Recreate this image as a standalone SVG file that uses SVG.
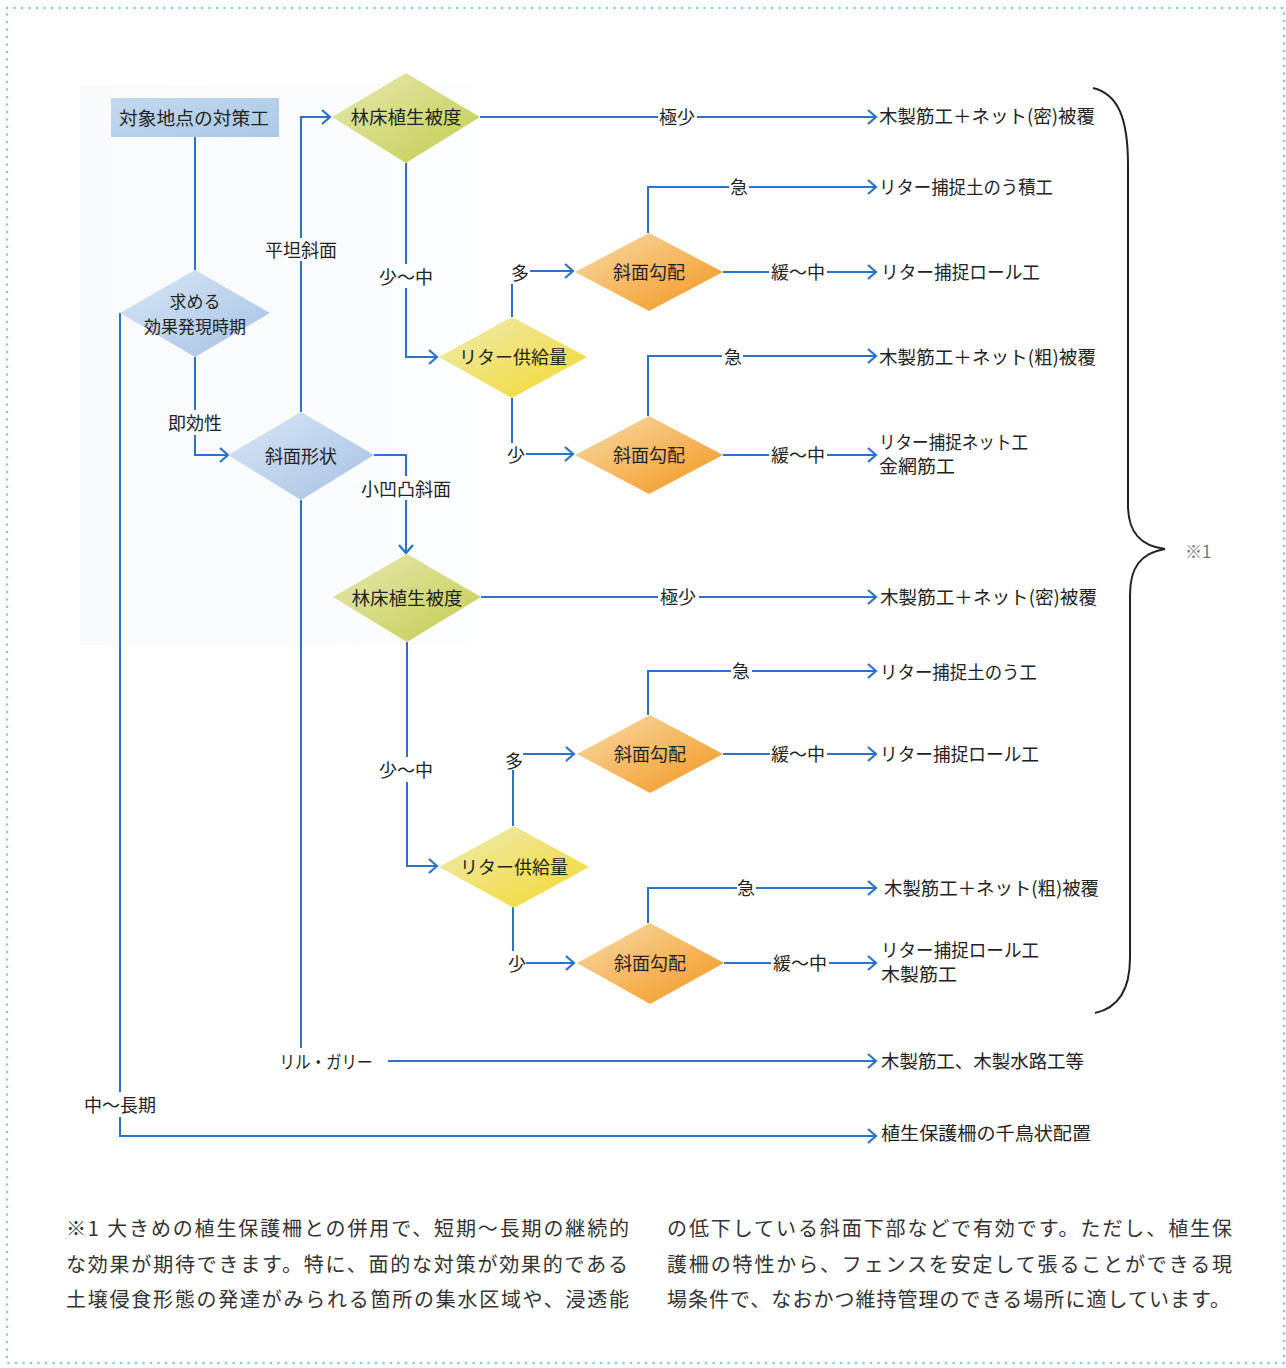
<svg xmlns="http://www.w3.org/2000/svg" width="1286" height="1368" viewBox="0 0 1286 1368">
<defs>
<linearGradient id="gBlue" x1="0" y1="0" x2="1" y2="1"><stop offset="0" stop-color="#d8e6f5"/><stop offset="1" stop-color="#a6c2e4"/></linearGradient>
<linearGradient id="gBox" x1="0" y1="0" x2="1" y2="1"><stop offset="0" stop-color="#c2d8ef"/><stop offset="1" stop-color="#abc9e9"/></linearGradient>
<linearGradient id="gGreen" x1="0" y1="0" x2="1" y2="1"><stop offset="0" stop-color="#e6e9b2"/><stop offset="1" stop-color="#c3cc4e"/></linearGradient>
<linearGradient id="gYellow" x1="0" y1="0" x2="1" y2="1"><stop offset="0" stop-color="#ecebb6"/><stop offset="1" stop-color="#f6d92a"/></linearGradient>
<linearGradient id="gOrange" x1="0" y1="0" x2="1" y2="1"><stop offset="0" stop-color="#f8dcaa"/><stop offset="1" stop-color="#f3951a"/></linearGradient>
<linearGradient id="gTint" x1="0" y1="0" x2="1" y2="0"><stop offset="0" stop-color="#eef2f6"/><stop offset="1" stop-color="#f8fafc"/></linearGradient>
<marker id="arr" markerUnits="userSpaceOnUse" markerWidth="12" markerHeight="18" refX="9" refY="8" orient="auto"><path d="M1,1 L9,8 L1,15" fill="none" stroke="#2b72c8" stroke-width="2.2"/></marker>
</defs>
<style>
text{font-family:"Noto Sans CJK JP","Noto Sans",sans-serif;fill:#222;font-size:18px;dominant-baseline:central}
.n{text-anchor:middle}
.l{text-anchor:middle}
.r{font-size:18.5px}
.c{fill:none;stroke:#2b72c8;stroke-width:2}
.note{font-size:20px;fill:#333;dominant-baseline:auto}
</style>
<rect width="1286" height="1368" fill="#ffffff"/>
<rect x="80" y="85" width="390" height="560" fill="url(#gTint)" opacity="0.4"/>
<rect x="7" y="8" width="1277" height="1355" fill="none" stroke="#7ccfd0" stroke-width="2.6" stroke-linecap="round" stroke-dasharray="0 7.5"/>

<g id="connectors">
<path class="c" d="M195,137 V270"/>
<path class="c" d="M195,357 V410 M195,435 V455 H228" marker-end="url(#arr)"/>
<path class="c" d="M301,412 V261 M301,238 V117 H330" marker-end="url(#arr)"/>
<path class="c" d="M374,455 H406 V476 M406,500 V553" marker-end="url(#arr)"/>
<path class="c" d="M301,500 V1048"/>
<path class="c" d="M388,1061 H876" marker-end="url(#arr)"/>
<path class="c" d="M120,313 V1092 M120,1117 V1136 H876" marker-end="url(#arr)"/>
<path class="c" d="M480,117 H658 M697,117 H876" marker-end="url(#arr)"/>
<path class="c" d="M406,163 V264 M406,288 V357 H437" marker-end="url(#arr)"/>
<path class="c" d="M512,317 V284 M530,271 H573" marker-end="url(#arr)"/>
<path class="c" d="M512,398 V443 M526,454 H573" marker-end="url(#arr)"/>
<path class="c" d="M648,233 V187 H729 M749,187 H876" marker-end="url(#arr)"/>
<path class="c" d="M723,272 H769 M827,272 H876" marker-end="url(#arr)"/>
<path class="c" d="M648,416 V356 H722 M743,356 H876" marker-end="url(#arr)"/>
<path class="c" d="M723,455 H769 M827,455 H876" marker-end="url(#arr)"/>
<path class="c" d="M481,597 H658 M699,597 H876" marker-end="url(#arr)"/>
<path class="c" d="M407,642 V757 M407,782 V866 H437" marker-end="url(#arr)"/>
<path class="c" d="M513,826 V770 M523,754 H574" marker-end="url(#arr)"/>
<path class="c" d="M513,907 V951 M526,963 H574" marker-end="url(#arr)"/>
<path class="c" d="M648,715 V671 H731 M752,671 H876" marker-end="url(#arr)"/>
<path class="c" d="M723,754 H770 M827,754 H876" marker-end="url(#arr)"/>
<path class="c" d="M648,923 V888 H737 M756,888 H876" marker-end="url(#arr)"/>
<path class="c" d="M724,963 H771 M829,963 H876" marker-end="url(#arr)"/>
<path d="M1093,88 C1118,94 1128,118 1128,165 L1128,505 C1128,532 1140,546 1165,549 C1141,553 1130,567 1130,595 L1130,958 C1130,990 1118,1008 1095,1013" fill="none" stroke="#222" stroke-width="2"/>
</g>

<g id="edge-labels">
<text class="l" x="195" y="422">即効性</text>
<text class="l" x="301" y="249">平坦斜面</text>
<text class="l" x="406" y="488">小凹凸斜面</text>
<text class="l" x="326" y="1061" textLength="93" lengthAdjust="spacingAndGlyphs">リル・ガリー</text>
<text class="l" x="120" y="1104">中～長期</text>
<text class="l" x="677" y="116">極少</text>
<text class="l" x="406" y="276">少～中</text>
<text class="l" x="520" y="272">多</text>
<text class="l" x="516" y="454">少</text>
<text class="l" x="739" y="186">急</text>
<text class="l" x="798" y="271">緩～中</text>
<text class="l" x="733" y="356">急</text>
<text class="l" x="798" y="454">緩～中</text>
<text class="l" x="678" y="596">極少</text>
<text class="l" x="406" y="769">少～中</text>
<text class="l" x="514" y="760">多</text>
<text class="l" x="517" y="963">少</text>
<text class="l" x="741" y="670">急</text>
<text class="l" x="798" y="753">緩～中</text>
<text class="l" x="746" y="887">急</text>
<text class="l" x="800" y="962">緩～中</text>
<text x="1185" y="550" style="fill:#777;font-size:17px">※1</text>
</g>

<g id="n-start"><rect x="111" y="98" width="168" height="39" fill="url(#gBox)"/><text class="n" x="194" y="117" textLength="150" lengthAdjust="spacingAndGlyphs">対象地点の対策工</text></g>
<g id="n-timing"><polygon points="195,270 270,313 195,357 120,313" fill="url(#gBlue)"/><text class="n" x="195" y="300" style="font-size:17px">求める</text><text class="n" x="195" y="325" style="font-size:17px">効果発現時期</text></g>
<g id="n-shape"><polygon points="301,412 374,455 301,500 228,455" fill="url(#gBlue)"/><text class="n" x="301" y="455">斜面形状</text></g>
<g id="n-cover1"><polygon points="406,73 480,117 406,163 332,117" fill="url(#gGreen)"/><text class="n" x="406" y="116" style="font-size:18.5px">林床植生被度</text></g>
<g id="n-litter1"><polygon points="512,317 587,357 512,398 439,357" fill="url(#gYellow)"/><text class="n" x="513" y="356">リター供給量</text></g>
<g id="n-slope1"><polygon points="649,233 723,272 649,311 575,272" fill="url(#gOrange)"/><text class="n" x="649" y="271">斜面勾配</text></g>
<g id="n-slope2"><polygon points="649,416 723,455 649,494 575,455" fill="url(#gOrange)"/><text class="n" x="649" y="454">斜面勾配</text></g>
<g id="n-cover2"><polygon points="407,554 481,597 407,642 333,597" fill="url(#gGreen)"/><text class="n" x="407" y="597" style="font-size:18.5px">林床植生被度</text></g>
<g id="n-litter2"><polygon points="514,826 589,867 514,908 439,867" fill="url(#gYellow)"/><text class="n" x="514" y="866">リター供給量</text></g>
<g id="n-slope3"><polygon points="650,715 723,754 650,793 577,754" fill="url(#gOrange)"/><text class="n" x="650" y="753">斜面勾配</text></g>
<g id="n-slope4"><polygon points="650,923 724,963 650,1004 577,963" fill="url(#gOrange)"/><text class="n" x="650" y="962">斜面勾配</text></g>

<g id="results">
<text class="r" x="879" y="115" textLength="216" lengthAdjust="spacingAndGlyphs">木製筋工＋ネット(密)被覆</text>
<text class="r" x="879" y="186" textLength="174" lengthAdjust="spacingAndGlyphs">リター捕捉土のう積工</text>
<text class="r" x="881" y="271" textLength="159" lengthAdjust="spacingAndGlyphs">リター捕捉ロール工</text>
<text class="r" x="879" y="356" textLength="217" lengthAdjust="spacingAndGlyphs">木製筋工＋ネット(粗)被覆</text>
<text class="r" x="879" y="441" textLength="149" lengthAdjust="spacingAndGlyphs">リター捕捉ネット工</text>
<text class="r" x="879" y="465" textLength="76" lengthAdjust="spacingAndGlyphs">金網筋工</text>
<text class="r" x="880" y="596" textLength="217" lengthAdjust="spacingAndGlyphs">木製筋工＋ネット(密)被覆</text>
<text class="r" x="880" y="671" textLength="157" lengthAdjust="spacingAndGlyphs">リター捕捉土のう工</text>
<text class="r" x="880" y="753" textLength="159" lengthAdjust="spacingAndGlyphs">リター捕捉ロール工</text>
<text class="r" x="884" y="887" textLength="215" lengthAdjust="spacingAndGlyphs">木製筋工＋ネット(粗)被覆</text>
<text class="r" x="881" y="949" textLength="158" lengthAdjust="spacingAndGlyphs">リター捕捉ロール工</text>
<text class="r" x="881" y="973" textLength="76" lengthAdjust="spacingAndGlyphs">木製筋工</text>
<text class="r" x="881" y="1060" textLength="203" lengthAdjust="spacingAndGlyphs">木製筋工、木製水路工等</text>
<text class="r" x="881" y="1132" textLength="210" lengthAdjust="spacingAndGlyphs">植生保護柵の千鳥状配置</text>
</g>

<g id="footnote">
<text class="note" x="66" y="1236" textLength="563" lengthAdjust="spacing">※1 大きめの植生保護柵との併用で、短期～長期の継続的</text>
<text class="note" x="66" y="1272" textLength="562" lengthAdjust="spacing">な効果が期待できます。特に、面的な対策が効果的である</text>
<text class="note" x="66" y="1307" textLength="563" lengthAdjust="spacing">土壌侵食形態の発達がみられる箇所の集水区域や、浸透能</text>
<text class="note" x="667" y="1236" textLength="565" lengthAdjust="spacing">の低下している斜面下部などで有効です。ただし、植生保</text>
<text class="note" x="667" y="1272" textLength="565" lengthAdjust="spacing">護柵の特性から、フェンスを安定して張ることができる現</text>
<text class="note" x="667" y="1307" textLength="563" lengthAdjust="spacing">場条件で、なおかつ維持管理のできる場所に適しています。</text>
</g>
</svg>
